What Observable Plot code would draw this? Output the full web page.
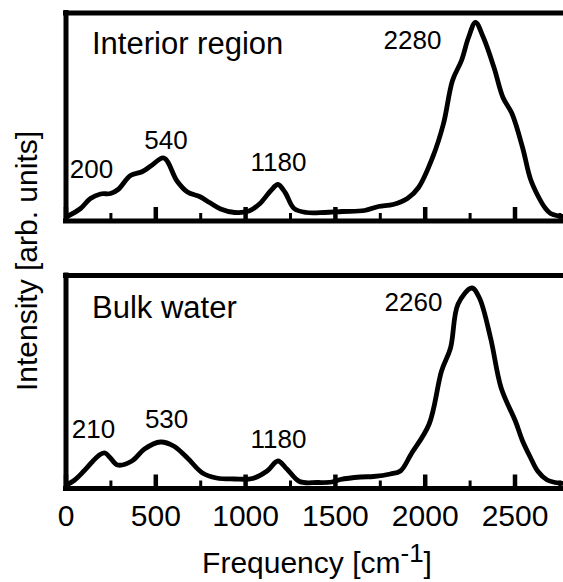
<!DOCTYPE html>
<html><head><meta charset="utf-8">
<script src="https://cdn.jsdelivr.net/npm/d3@7"></script>
<script src="https://cdn.jsdelivr.net/npm/@observablehq/plot@0.6"></script>
<style>
html,body{margin:0;padding:0;background:#fff;overflow:hidden}
#chart{position:relative;width:563px;height:582px;font-family:"Liberation Sans",Arial,sans-serif;color:#000}
#top,#bottom{position:absolute;left:0}
#top{top:0}
#bottom{top:232px}
.ylabel{position:absolute;left:27px;top:260.5px;transform:translate(-50%,-50%) rotate(-90deg);white-space:nowrap;font-size:30px;line-height:30px}
.xlabel{position:absolute;left:117px;width:400px;top:547.6px;text-align:center;font-size:30px;line-height:30px;white-space:nowrap}
.xlabel sup{font-size:26px;vertical-align:11px;line-height:0}
</style></head>
<body>
<div id="chart">
  <div id="top"></div>
  <div id="bottom"></div>
  <div class="ylabel">Intensity [arb. units]</div>
  <div class="xlabel">Frequency [cm<sup>-1</sup>]</div>
</div>
<script>
// ---- data ----
const majorTicks = [0, 500, 1000, 1500, 2000, 2500];
const minorTicks = [250, 750, 1250, 1750, 2250, 2750];

const interiorName = "Interior region";
const interiorFreq = [6, 81, 136, 192, 248, 290, 359, 426, 476, 545, 618, 676, 749, 799, 861, 939, 1019, 1080, 1141, 1180, 1220, 1270, 1339, 1439, 1539, 1662, 1740, 1821, 1901, 1963, 2041, 2102, 2152, 2202, 2241, 2280, 2324, 2383, 2433, 2483, 2542, 2586, 2631, 2670, 2698, 2742, 2770];
const interiorIntensity = [4.5, 12.5, 22.5, 27, 27.5, 31.5, 45.5, 49.5, 55.5, 63, 40, 29, 24, 18.5, 12, 8.5, 10, 17.5, 30.5, 36.5, 28.5, 12.5, 8.5, 8.5, 9.5, 10.5, 14.5, 16.5, 22.5, 33.5, 63.5, 97.5, 140.5, 160.5, 183.5, 198.5, 183.5, 153.5, 123.5, 107.5, 73.5, 42, 24, 12.5, 7.5, 5, 4.5];
const interiorPeakLabels = ["200", "540", "1180", "2280"];
const interiorPeakX = [142, 557, 1183, 1929];
const interiorPeakY = [43.5, 72.5, 50.5, 172.5];

const bulkName = "Bulk water";
const bulkFreq = [6, 45, 97, 148, 190, 217, 245, 287, 367, 437, 526, 599, 676, 760, 838, 939, 1038, 1120, 1180, 1230, 1300, 1400, 1480, 1528, 1640, 1712, 1806, 1862, 1922, 2022, 2091, 2141, 2183, 2260, 2302, 2364, 2423, 2503, 2541, 2586, 2628, 2679, 2725, 2770];
const bulkIntensity = [4, 8, 17, 27, 34, 35.5, 31, 23.5, 27.5, 39.5, 46.5, 42.5, 30.5, 15.5, 10.5, 9.5, 10, 17.5, 27.5, 19.5, 7, 6, 6.5, 9, 11.5, 12, 14.5, 17.5, 34.5, 64.5, 117.5, 140.5, 184.5, 200.5, 190.5, 150.5, 100.5, 67, 48, 31, 17, 8.5, 6, 5];
const bulkPeakLabels = ["210", "530", "1180", "2260"];
const bulkPeakX = [153, 560, 1183, 1935];
const bulkPeakY = [50.5, 60.5, 40.5, 177.5];

// ---- drawing ----
const FONT = '"Liberation Sans", Arial, sans-serif';

function panel(opts) {
  const {freq, intensity, name, labels, lx, ly, yMax, height, marginTop, marginBottom, showAxis, nameDy} = opts;
  const series = freq.map((f, i) => ({f, v: intensity[i]}));
  const peaks = labels.map((t, i) => ({t, x: lx[i], y: ly[i]}));
  const plotH = height - marginTop - marginBottom;
  return Plot.plot({
    width: 563,
    height,
    marginLeft: 65.5,
    marginRight: 0,
    marginTop,
    marginBottom,
    style: {fontFamily: FONT, fontSize: "30px", color: "black", background: "white"},
    x: showAxis
      ? {domain: [0, 2770], ticks: majorTicks, tickSize: 0, tickPadding: 16, tickFormat: d => String(d), label: null}
      : {domain: [0, 2770], axis: null},
    y: {domain: [0, yMax], axis: null},
    marks: [
      Plot.ruleX(majorTicks, {x: d => d, stroke: "black", strokeWidth: 4.5, insetTop: plotH - 13.5}),
      Plot.ruleX(minorTicks, {x: d => d, stroke: "black", strokeWidth: 3, insetTop: plotH - 7.5}),
      Plot.line(series, {x: "f", y: "v", curve: "catmull-rom", stroke: "black", strokeWidth: 4.8, strokeLinejoin: "round", strokeLinecap: "round"}),
      Plot.ruleY([0], {stroke: "black", strokeWidth: 5, strokeLinecap: "square"}),
      Plot.ruleY([yMax], {stroke: "black", strokeWidth: 5, strokeLinecap: "square"}),
      Plot.ruleX([0], {stroke: "black", strokeWidth: 5, strokeLinecap: "square"}),
      Plot.text(peaks, {x: "x", y: "y", text: "t", fontSize: 26, textAnchor: "middle", lineAnchor: "bottom", fill: "black"}),
      Plot.text([name], {frameAnchor: "top-left", dx: 26, dy: nameDy, fontSize: 31, textAnchor: "start", lineAnchor: "top", fill: "black"})
    ]
  });
}

document.getElementById("top").append(panel({
  freq: interiorFreq, intensity: interiorIntensity, name: interiorName,
  labels: interiorPeakLabels, lx: interiorPeakX, ly: interiorPeakY,
  yMax: 208, height: 232, marginTop: 12.5, marginBottom: 11.5, showAxis: false, nameDy: 18.5
}));
document.getElementById("bottom").append(panel({
  freq: bulkFreq, intensity: bulkIntensity, name: bulkName,
  labels: bulkPeakLabels, lx: bulkPeakX, ly: bulkPeakY,
  yMax: 213, height: 350, marginTop: 43, marginBottom: 94, showAxis: true, nameDy: 20
}));
</script>
</body></html>
